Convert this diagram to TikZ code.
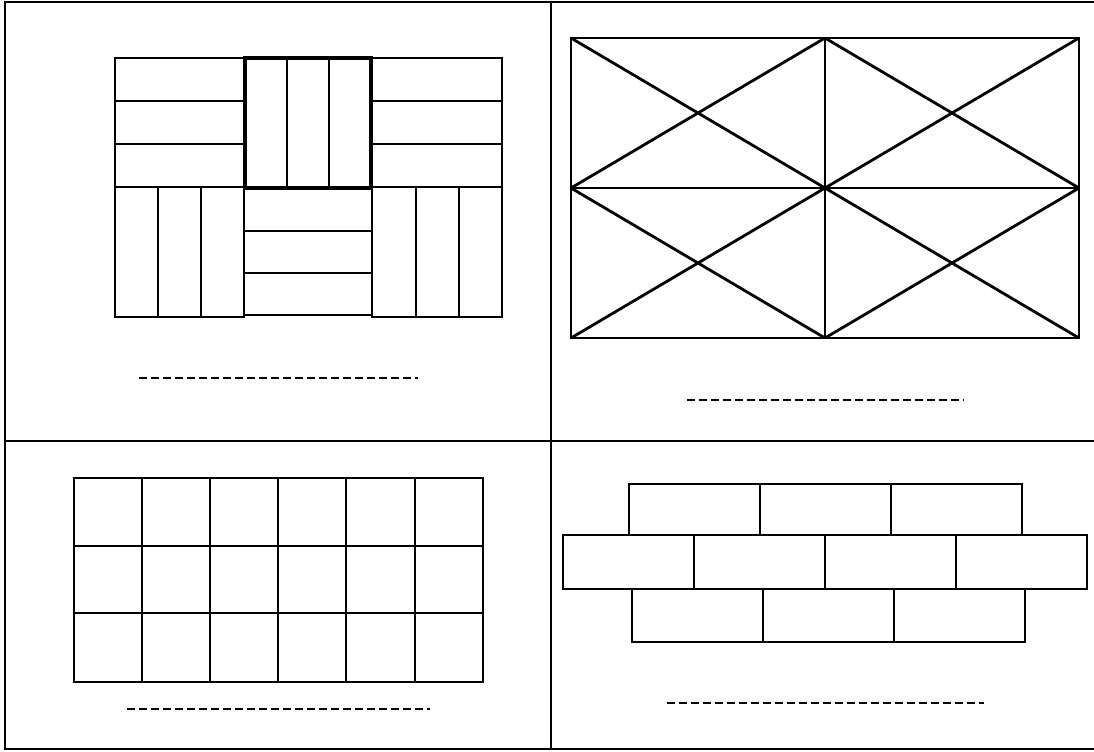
\documentclass[tikz,border=0pt]{standalone}
\usepackage{tikz}
\usetikzlibrary{calc}

\begin{document}
\begin{tikzpicture}[
    x=0.5pt, y=-0.5pt,
    frame/.style={draw=black, line width=1.3pt},
    tile/.style={draw=black, line width=1.4pt},
    blank/.style={draw=black, line width=1.2pt, dash pattern=on 3.8pt off 2.2pt}
  ]
    \useasboundingbox (0,0) rectangle (1094,751);

    % panels
    \draw[frame] (1094,2) -- (5,2) -- (5,749) -- (1094,749);
    \draw[frame] (5,441) -- (1094,441);
    \draw[frame] (551,2) -- (551,749);

    % parquet (top left)
    \draw[tile] (115,58) rectangle (244,187);
    \draw[tile] (372,58) rectangle (502,187);
    \foreach \y in {101,144} {
      \draw[tile] (115,\y) -- (244,\y);
      \draw[tile] (372,\y) -- (502,\y);
    }
    \draw[tile, line width=1.7pt] (245,58) rectangle (371,188);
    \foreach \x in {287,329} \draw[tile] (\x,58) -- (\x,188);
    \draw[tile] (115,187) rectangle (244,317);
    \draw[tile] (372,187) rectangle (502,317);
    \foreach \x in {158,201} \draw[tile] (\x,187) -- (\x,317);
    \foreach \x in {416,459} \draw[tile] (\x,187) -- (\x,317);
    \draw[tile] (244,189) rectangle (372,315);
    \foreach \y in {231,273} \draw[tile] (244,\y) -- (372,\y);
    \draw[blank] (139,378) -- (418,378);

    % crossed rectangles (top right)
    \draw[tile] (571,38) rectangle (1079,338);
    \draw[tile] (825,38) -- (825,338);
    \draw[tile] (571,188) -- (1079,188);
    \foreach \x/\xx in {571/825,825/1079}
      \foreach \y/\yy in {38/188,188/338} {
        \draw[tile] (\x,\y) -- (\xx,\yy);
        \draw[tile] (\x,\yy) -- (\xx,\y);
      }
    \draw[blank] (687,400) -- (964,400);

    % square grid (bottom left)
    \draw[tile] (74,478) rectangle (483,682);
    \foreach \x in {142,210,278,346,415} \draw[tile] (\x,478) -- (\x,682);
    \foreach \y in {546,613} \draw[tile] (74,\y) -- (483,\y);
    \draw[blank] (127,709) -- (430,709);

    % bricks (bottom right)
    \foreach \x in {629,760,891} \draw[tile] (\x,484) rectangle ++(131,51);
    \foreach \x in {563,694,825,956} \draw[tile] (\x,535) rectangle ++(131,54);
    \foreach \x in {632,763,894} \draw[tile] (\x,589) rectangle ++(131,53);
    \draw[blank] (667,703) -- (984,703);

\end{tikzpicture}
\end{document}
